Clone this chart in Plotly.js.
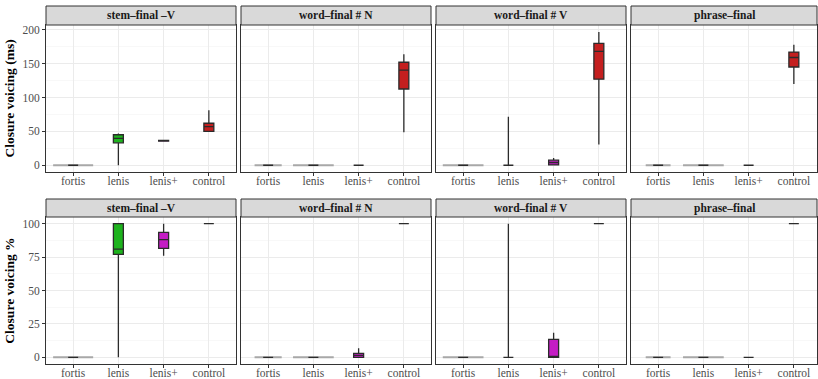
<!DOCTYPE html>
<html>
<head>
<meta charset="utf-8">
<script src="https://cdn.plot.ly/plotly-3.0.1.min.js"></script>
<style>html,body{margin:0;padding:0;background:#fff}#chart{width:818px;height:379px}</style>
</head>
<body>
<div id="chart"></div>
<script>
// ---- data ----
const categories = ['fortis', 'lenis', 'lenis+', 'control'];
const panelTitles = ['stem–final –V', 'word–final # N', 'word–final # V', 'phrase–final'];
const rowTitles = ['Closure voicing (ms)', 'Closure voicing %'];

// Row 1: closure voicing in ms; per panel, values per category [fortis, lenis, lenis+, control]
const msQ1  = [[0, 33, 35.5, 50], [0, 0, 0, 112.5], [0, 0, 0.5, 127], [0, 0, 0, 145]];
const msMed = [[0, 39.5, 36, 57], [0, 0, 0, 140.5], [0, 0, 4, 168], [0, 0, 0, 159]];
const msQ3  = [[0, 45, 36.5, 62], [0, 0, 0, 152], [0, 0, 7.5, 180], [0, 0, 0, 167]];
const msLo  = [[0, 0, 35.5, 49], [0, 0, 0, 48.5], [0, 0, 0, 30.5], [0, 0, 0, 120]];
const msHi  = [[0, 47, 37, 81], [0, 0, 0, 164], [0, 71.5, 10.8, 196.5], [0, 0, 0, 178]];

// Row 2: closure voicing in %
const pcQ1  = [[0, 77, 81.5, 100], [0, 0, 0, 100], [0, 0, 0, 100], [0, 0, 0, 100]];
const pcMed = [[0, 81, 88, 100], [0, 0, 1.5, 100], [0, 0, 0.5, 100], [0, 0, 0, 100]];
const pcQ3  = [[0, 100, 93.5, 100], [0, 0, 3, 100], [0, 0, 13.5, 100], [0, 0, 0, 100]];
const pcLo  = [[0, 0, 76, 100], [0, 0, 0, 100], [0, 0, 0, 100], [0, 0, 0, 100]];
const pcHi  = [[0, 100, 100, 100], [0, 0, 6.7, 100], [0, 100, 18.4, 100], [0, 0, 0, 100]];

// flat zero-spread layers (relative count width) for categories with all-zero values
const flatCats = [['fortis'], ['fortis', 'lenis'], ['fortis'], ['fortis', 'lenis']];
const flatRel  = [[0.885], [0.6, 0.9], [0.9], [0.55, 0.9]];

const fills = {fortis: '#9a9a9a', lenis: '#1DB31D', 'lenis+': '#C41DC4', control: '#C41F1F'};

// ---- geometry (px) ----
const W = 818, H = 379;
const colX = [[46, 236], [241, 431], [436, 626], [631, 817]];
const rowY = [[25, 172], [217, 364]];
const stripY = [[6, 25], [199, 217]];
const unitPx = 190 / 4.2;

const FONT = 'Liberation Serif, Times New Roman, serif';
const traces = [];
const layout = {
  width: W, height: H, margin: {l: 0, r: 0, t: 0, b: 0},
  paper_bgcolor: '#fff', plot_bgcolor: '#fff', showlegend: false,
  boxmode: 'overlay', shapes: [], annotations: [], hovermode: false,
  font: {family: FONT}
};

const rows = [
  {q1: msQ1, med: msMed, q3: msQ3, lo: msLo, hi: msHi, range: [-10, 207], minor: 25, tickvals: [0, 50, 100, 150, 200]},
  {q1: pcQ1, med: pcMed, q3: pcQ3, lo: pcLo, hi: pcHi, range: [-5, 105], minor: 12.5, tickvals: [0, 25, 50, 75, 100]}
];

rows.forEach((row, r) => {
  for (let c = 0; c < 4; c++) {
    const k = r * 4 + c + 1;
    const xa = 'x' + (k === 1 ? '' : k), ya = 'y' + (k === 1 ? '' : k);
    const xk = 'xaxis' + (k === 1 ? '' : k), yk = 'yaxis' + (k === 1 ? '' : k);
    const [x0, x1] = colX[c];
    const [yt, yb] = rowY[r];
    const xmax = -0.6 + (x1 - x0) / unitPx;
    layout[xk] = {
      domain: [x0 / W, x1 / W], anchor: ya, type: 'category',
      categoryorder: 'array', categoryarray: categories,
      range: [-0.6, xmax], showgrid: true, gridcolor: '#EBEBEB', gridwidth: 1,
      showline: true, linecolor: '#333333', linewidth: 1, mirror: true,
      ticks: 'outside', ticklen: 3, tickcolor: '#333333', tickwidth: 1,
      ticklabelstandoff: -5,
      tickfont: {family: FONT, size: 11.5, color: '#4D4D4D'}, zeroline: false, fixedrange: true
    };
    layout[yk] = {
      domain: [1 - yb / H, 1 - yt / H], anchor: xa,
      range: row.range, tickvals: row.tickvals, showgrid: true, gridcolor: '#EBEBEB', gridwidth: 1,
      minor: {dtick: row.minor, tick0: 0, showgrid: true, gridcolor: '#F3F3F3', gridwidth: 0.6},
      showline: true, linecolor: '#333333', linewidth: 1, mirror: true,
      ticks: c === 0 ? 'outside' : '', ticklen: 3, tickcolor: '#333333',
      showticklabels: c === 0, zeroline: false, fixedrange: true,
      tickfont: {family: FONT, size: 11.5, color: '#4D4D4D'}
    };
    if (c === 0) {
      layout[yk].title = {text: rowTitles[r], font: {family: FONT, size: 13.5, color: '#000', weight: 'bold'}, standoff: 4};
    }
    // strip
    layout.shapes.push({
      type: 'rect', xref: 'paper', yref: 'paper', layer: 'above',
      x0: x0 / W, x1: x1 / W, y0: 1 - stripY[r][1] / H, y1: 1 - stripY[r][0] / H,
      fillcolor: '#D9D9D9', line: {color: '#333333', width: 1}
    });
    layout.annotations.push({
      xref: 'paper', yref: 'paper', x: (x0 + x1) / 2 / W, y: 1 - (stripY[r][0] + stripY[r][1]) / 2 / H,
      text: '<b>' + panelTitles[c] + '</b>', showarrow: false, xanchor: 'center', yanchor: 'middle',
      font: {family: FONT, size: 11.5, color: '#1A1A1A'}
    });
    // flat zero-spread layers
    flatCats[c].forEach((cat, j) => {
      traces.push({
        type: 'box', xaxis: xa, yaxis: ya, x: [cat],
        q1: [0], median: [0], q3: [0], lowerfence: [0], upperfence: [0],
        width: flatRel[c][j], boxpoints: false, whiskerwidth: 0,
        line: {color: '#A8A8A8', width: 2}, fillcolor: '#A8A8A8', hoverinfo: 'skip'
      });
    });
    // boxes
    categories.forEach((cat, i) => {
      traces.push({
        type: 'box', xaxis: xa, yaxis: ya, x: [cat],
        q1: [row.q1[c][i]], median: [row.med[c][i]], q3: [row.q3[c][i]],
        lowerfence: [row.lo[c][i]], upperfence: [row.hi[c][i]],
        width: 0.22, boxpoints: false, whiskerwidth: 0,
        line: {color: '#2B2B2B', width: 1.3}, fillcolor: fills[cat], hoverinfo: 'skip'
      });
    });
  }
});

Plotly.newPlot('chart', traces, layout, {staticPlot: true, displayModeBar: false});
</script>
</body>
</html>
